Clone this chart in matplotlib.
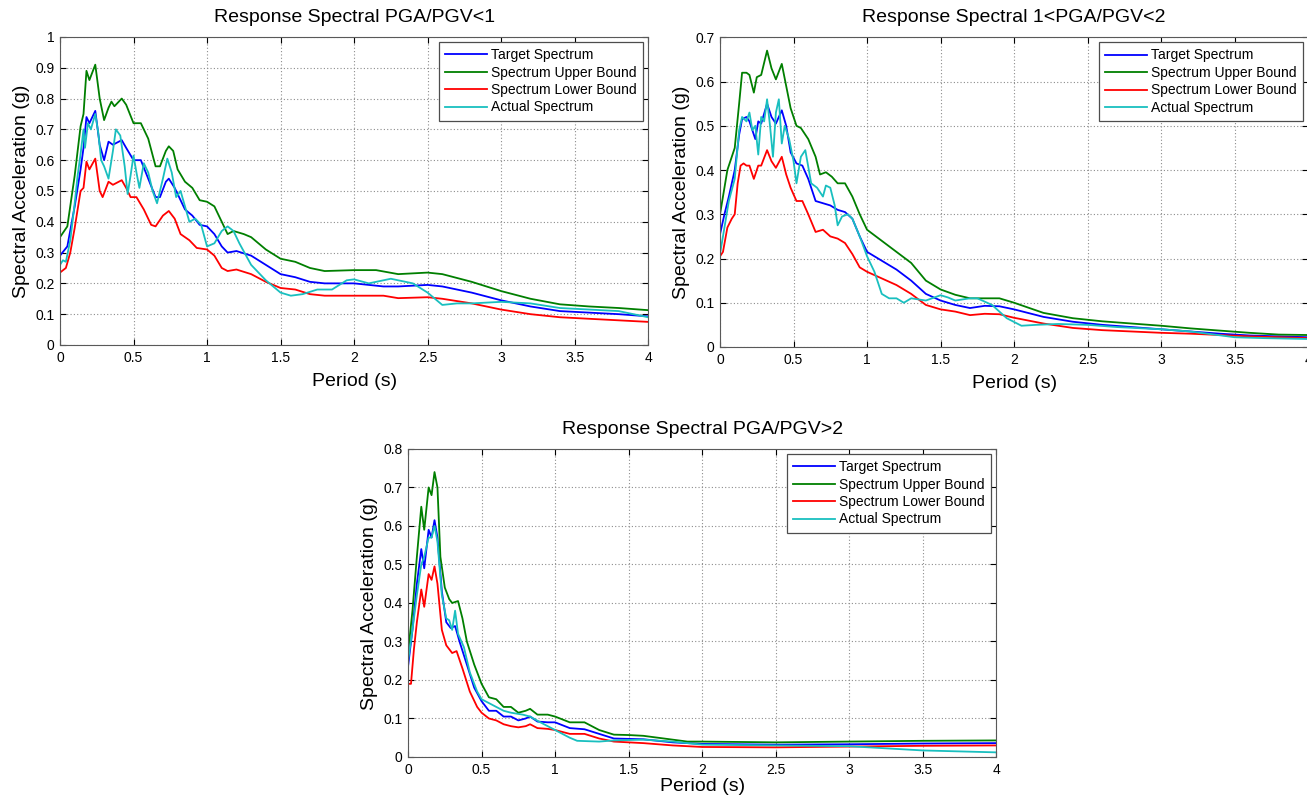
import matplotlib
matplotlib.use("Agg")
import matplotlib.pyplot as plt
from matplotlib.ticker import FormatStrFormatter, MultipleLocator

plt.rcParams['font.family'] = ['Liberation Sans', 'DejaVu Sans']

labels = ['Target Spectrum', 'Spectrum Upper Bound', 'Spectrum Lower Bound', 'Actual Spectrum']
colors = ['#0000ff', '#007f00', '#ff0000', '#19bfbf']

# ---- panel 1 : PGA/PGV < 1 ----
p1_t_target = [0, 0.05, 0.1, 0.14, 0.16, 0.18, 0.2, 0.24, 0.27, 0.3, 0.33, 0.36, 0.42, 0.45, 0.5, 0.55,
               0.6, 0.65, 0.68, 0.72, 0.74, 0.78, 0.85, 0.9, 0.95, 1.0, 1.05, 1.1, 1.14, 1.2, 1.3, 1.4,
               1.5, 1.6, 1.7, 1.8, 2.0, 2.2, 2.3, 2.5, 2.6, 2.8, 3.0, 3.2, 3.4, 3.6, 3.8, 4.0]
p1_target = [0.29, 0.32, 0.45, 0.57, 0.64, 0.74, 0.72, 0.76, 0.65, 0.60, 0.66, 0.65, 0.665, 0.64, 0.60, 0.60,
             0.54, 0.48, 0.48, 0.53, 0.54, 0.51, 0.44, 0.42, 0.39, 0.385, 0.36, 0.32, 0.30, 0.305, 0.29, 0.26,
             0.23, 0.22, 0.205, 0.20, 0.20, 0.19, 0.19, 0.195, 0.19, 0.17, 0.145, 0.125, 0.11, 0.105, 0.10, 0.093]
p1_t_upper = [0, 0.05, 0.1, 0.14, 0.16, 0.18, 0.2, 0.24, 0.27, 0.3, 0.33, 0.35, 0.37, 0.42, 0.45, 0.5,
              0.55, 0.6, 0.65, 0.68, 0.72, 0.74, 0.77, 0.8, 0.85, 0.9, 0.95, 1.0, 1.05, 1.1, 1.14, 1.18,
              1.25, 1.3, 1.4, 1.5, 1.6, 1.7, 1.8, 2.0, 2.15, 2.3, 2.5, 2.6, 2.8, 3.0, 3.2, 3.4, 3.6, 3.8, 4.0]
p1_upper = [0.35, 0.385, 0.55, 0.71, 0.75, 0.89, 0.86, 0.91, 0.80, 0.73, 0.77, 0.79, 0.775, 0.80, 0.78, 0.72,
            0.72, 0.67, 0.58, 0.58, 0.63, 0.645, 0.63, 0.57, 0.53, 0.51, 0.47, 0.465, 0.45, 0.40, 0.36, 0.37,
            0.36, 0.35, 0.31, 0.28, 0.27, 0.25, 0.24, 0.243, 0.243, 0.23, 0.235, 0.23, 0.205, 0.175, 0.15, 0.132,
            0.125, 0.12, 0.113]
p1_t_lower = [0, 0.04, 0.07, 0.1, 0.14, 0.16, 0.18, 0.2, 0.24, 0.27, 0.29, 0.33, 0.36, 0.42, 0.45, 0.48,
              0.52, 0.57, 0.62, 0.65, 0.7, 0.74, 0.78, 0.82, 0.88, 0.93, 1.0, 1.05, 1.1, 1.14, 1.2, 1.3,
              1.4, 1.5, 1.6, 1.7, 1.8, 2.0, 2.2, 2.3, 2.5, 2.6, 2.8, 3.0, 3.2, 3.4, 3.6, 3.8, 4.0]
p1_lower = [0.235, 0.25, 0.30, 0.38, 0.50, 0.51, 0.595, 0.57, 0.605, 0.50, 0.48, 0.53, 0.52, 0.535, 0.51, 0.48,
            0.48, 0.44, 0.39, 0.385, 0.42, 0.435, 0.41, 0.36, 0.34, 0.315, 0.31, 0.29, 0.25, 0.24, 0.245, 0.23,
            0.205, 0.185, 0.18, 0.165, 0.16, 0.16, 0.16, 0.152, 0.155, 0.15, 0.135, 0.115, 0.10, 0.09, 0.085,
            0.08, 0.075]
p1_t_actual = [0, 0.02, 0.04, 0.07, 0.1, 0.12, 0.14, 0.16, 0.17, 0.19, 0.21, 0.24, 0.26, 0.28, 0.3, 0.33,
               0.36, 0.38, 0.41, 0.44, 0.46, 0.48, 0.5, 0.52, 0.54, 0.57, 0.6, 0.63, 0.66, 0.7, 0.73, 0.76,
               0.79, 0.82, 0.85, 0.88, 0.92, 0.96, 1.0, 1.05, 1.1, 1.14, 1.18, 1.22, 1.3, 1.4, 1.5, 1.57,
               1.65, 1.75, 1.85, 1.95, 2.0, 2.1, 2.25, 2.4, 2.5, 2.6, 2.7, 2.8, 3.0, 3.2, 3.4, 3.6, 3.8, 4.0]
p1_actual = [0.26, 0.275, 0.27, 0.34, 0.46, 0.55, 0.62, 0.70, 0.64, 0.72, 0.70, 0.75, 0.69, 0.60, 0.58, 0.54,
             0.63, 0.70, 0.68, 0.58, 0.49, 0.55, 0.615, 0.56, 0.51, 0.59, 0.56, 0.50, 0.46, 0.54, 0.605, 0.56,
             0.48, 0.50, 0.45, 0.40, 0.41, 0.39, 0.32, 0.33, 0.37, 0.385, 0.37, 0.33, 0.26, 0.21, 0.17, 0.16,
             0.165, 0.18, 0.18, 0.21, 0.213, 0.20, 0.215, 0.20, 0.17, 0.13, 0.135, 0.135, 0.14, 0.135, 0.12,
             0.115, 0.11, 0.09]

# ---- panel 2 : 1 < PGA/PGV < 2 ----
p2_t_target = [0, 0.03, 0.06, 0.1, 0.13, 0.15, 0.18, 0.2, 0.24, 0.26, 0.28, 0.32, 0.35, 0.38, 0.42, 0.45,
               0.48, 0.52, 0.56, 0.6, 0.65, 0.7, 0.75, 0.8, 0.85, 0.9, 0.95, 1.0, 1.1, 1.2, 1.3, 1.4, 1.5,
               1.6, 1.7, 1.8, 1.9, 2.0, 2.2, 2.4, 2.6, 2.8, 3.0, 3.2, 3.4, 3.6, 3.8, 4.0]
p2_target = [0.255, 0.30, 0.34, 0.40, 0.48, 0.515, 0.52, 0.51, 0.47, 0.51, 0.505, 0.55, 0.52, 0.505, 0.535, 0.50,
             0.44, 0.415, 0.41, 0.38, 0.33, 0.325, 0.32, 0.31, 0.305, 0.29, 0.25, 0.215, 0.195, 0.175, 0.15,
             0.12, 0.105, 0.095, 0.088, 0.093, 0.092, 0.085, 0.068, 0.057, 0.05, 0.045, 0.04, 0.035, 0.03,
             0.026, 0.024, 0.022]
p2_t_upper = [0, 0.05, 0.1, 0.13, 0.15, 0.18, 0.2, 0.23, 0.25, 0.28, 0.32, 0.35, 0.38, 0.42, 0.45, 0.48,
              0.52, 0.55, 0.6, 0.65, 0.68, 0.72, 0.76, 0.8, 0.85, 0.9, 0.95, 1.0, 1.1, 1.2, 1.3, 1.4, 1.5,
              1.6, 1.7, 1.8, 1.9, 2.0, 2.2, 2.4, 2.6, 2.8, 3.0, 3.2, 3.4, 3.6, 3.8, 4.0]
p2_upper = [0.30, 0.40, 0.45, 0.55, 0.62, 0.62, 0.615, 0.575, 0.61, 0.615, 0.67, 0.63, 0.605, 0.64, 0.59, 0.54,
            0.50, 0.495, 0.47, 0.43, 0.39, 0.395, 0.385, 0.37, 0.37, 0.34, 0.30, 0.265, 0.24, 0.215, 0.19,
            0.15, 0.13, 0.118, 0.11, 0.11, 0.11, 0.10, 0.077, 0.065, 0.058, 0.053, 0.048, 0.042, 0.037,
            0.032, 0.028, 0.027]
p2_t_lower = [0, 0.02, 0.05, 0.08, 0.1, 0.12, 0.14, 0.16, 0.18, 0.2, 0.23, 0.26, 0.28, 0.32, 0.35, 0.38,
              0.42, 0.45, 0.48, 0.52, 0.56, 0.6, 0.65, 0.7, 0.75, 0.8, 0.85, 0.9, 0.95, 1.0, 1.1, 1.2, 1.3,
              1.4, 1.5, 1.6, 1.7, 1.8, 1.9, 2.0, 2.2, 2.4, 2.6, 2.8, 3.0, 3.2, 3.4, 3.6, 3.8, 4.0]
p2_lower = [0.205, 0.215, 0.27, 0.29, 0.30, 0.37, 0.41, 0.415, 0.41, 0.41, 0.38, 0.41, 0.41, 0.445, 0.42,
            0.405, 0.43, 0.39, 0.36, 0.33, 0.33, 0.30, 0.26, 0.265, 0.25, 0.245, 0.235, 0.21, 0.18, 0.17,
            0.155, 0.14, 0.12, 0.095, 0.085, 0.08, 0.072, 0.075, 0.074, 0.066, 0.053, 0.043, 0.038, 0.035,
            0.032, 0.03, 0.027, 0.024, 0.022, 0.02]
p2_t_actual = [0, 0.03, 0.06, 0.1, 0.13, 0.15, 0.18, 0.2, 0.22, 0.24, 0.26, 0.28, 0.3, 0.32, 0.34, 0.36,
               0.38, 0.4, 0.42, 0.44, 0.47, 0.5, 0.52, 0.55, 0.58, 0.62, 0.66, 0.7, 0.72, 0.75, 0.78, 0.8,
               0.83, 0.87, 0.9, 0.95, 1.0, 1.05, 1.1, 1.15, 1.2, 1.25, 1.3, 1.4, 1.5, 1.55, 1.6, 1.7, 1.75,
               1.85, 1.95, 2.05, 2.15, 2.3, 2.5, 2.7, 3.0, 3.2, 3.5, 3.7, 4.0]
p2_actual = [0.21, 0.27, 0.33, 0.38, 0.49, 0.52, 0.51, 0.53, 0.49, 0.50, 0.435, 0.52, 0.51, 0.56, 0.50, 0.43,
             0.53, 0.56, 0.46, 0.50, 0.47, 0.42, 0.37, 0.43, 0.445, 0.37, 0.36, 0.34, 0.365, 0.36, 0.32, 0.275,
             0.295, 0.30, 0.29, 0.25, 0.205, 0.17, 0.12, 0.11, 0.11, 0.10, 0.11, 0.105, 0.117, 0.112, 0.105,
             0.11, 0.11, 0.095, 0.065, 0.048, 0.05, 0.052, 0.05, 0.045, 0.04, 0.035, 0.022, 0.02, 0.018]

# ---- panel 3 : PGA/PGV > 2 ----
p3_t_target = [0, 0.03, 0.06, 0.09, 0.11, 0.14, 0.16, 0.18, 0.2, 0.23, 0.26, 0.29, 0.32, 0.35, 0.4, 0.45,
               0.5, 0.55, 0.6, 0.65, 0.7, 0.75, 0.8, 0.83, 0.88, 0.95, 1.0, 1.1, 1.2, 1.3, 1.4, 1.5, 1.6,
               1.7, 1.8, 2.0, 2.5, 3.0, 3.5, 4.0]
p3_target = [0.235, 0.33, 0.45, 0.54, 0.49, 0.59, 0.57, 0.615, 0.57, 0.43, 0.35, 0.335, 0.34, 0.30, 0.24, 0.18,
             0.145, 0.12, 0.12, 0.105, 0.105, 0.095, 0.10, 0.105, 0.092, 0.09, 0.09, 0.075, 0.072, 0.06, 0.048,
             0.047, 0.046, 0.042, 0.038, 0.034, 0.032, 0.033, 0.035, 0.036]
p3_t_upper = [0, 0.03, 0.06, 0.09, 0.11, 0.14, 0.16, 0.18, 0.2, 0.22, 0.25, 0.28, 0.3, 0.34, 0.37, 0.4,
              0.45, 0.5, 0.55, 0.6, 0.65, 0.7, 0.75, 0.8, 0.83, 0.88, 0.95, 1.0, 1.1, 1.2, 1.3, 1.4, 1.5,
              1.6, 1.7, 1.8, 1.9, 2.0, 2.5, 3.0, 3.5, 4.0]
p3_upper = [0.27, 0.38, 0.52, 0.65, 0.59, 0.70, 0.68, 0.74, 0.70, 0.52, 0.44, 0.41, 0.40, 0.405, 0.36, 0.30,
            0.24, 0.19, 0.155, 0.15, 0.13, 0.13, 0.115, 0.12, 0.125, 0.11, 0.11, 0.105, 0.09, 0.09, 0.07,
            0.058, 0.057, 0.055, 0.05, 0.045, 0.04, 0.04, 0.038, 0.04, 0.042, 0.043]
p3_t_lower = [0, 0.02, 0.04, 0.06, 0.09, 0.11, 0.14, 0.16, 0.18, 0.2, 0.23, 0.26, 0.3, 0.33, 0.37, 0.42,
              0.47, 0.5, 0.55, 0.6, 0.65, 0.7, 0.75, 0.8, 0.83, 0.88, 0.95, 1.0, 1.1, 1.2, 1.3, 1.4, 1.6,
              1.8, 2.0, 2.5, 3.0, 3.5, 4.0]
p3_lower = [0.19, 0.19, 0.28, 0.35, 0.435, 0.39, 0.475, 0.46, 0.495, 0.45, 0.33, 0.29, 0.27, 0.275, 0.23, 0.17,
            0.13, 0.115, 0.10, 0.095, 0.085, 0.08, 0.077, 0.08, 0.085, 0.075, 0.073, 0.07, 0.06, 0.06, 0.048,
            0.04, 0.036, 0.03, 0.026, 0.025, 0.027, 0.029, 0.03]
p3_t_actual = [0, 0.03, 0.06, 0.09, 0.11, 0.14, 0.16, 0.18, 0.2, 0.23, 0.26, 0.28, 0.3, 0.32, 0.34, 0.38,
               0.42, 0.47, 0.5, 0.55, 0.6, 0.65, 0.7, 0.78, 0.83, 0.9, 1.0, 1.1, 1.15, 1.3, 1.4, 1.6, 1.8,
               2.0, 2.5, 3.0, 3.5, 4.0]
p3_actual = [0.25, 0.33, 0.42, 0.50, 0.52, 0.57, 0.57, 0.60, 0.56, 0.42, 0.36, 0.355, 0.33, 0.38, 0.32, 0.285,
             0.22, 0.17, 0.15, 0.14, 0.13, 0.12, 0.115, 0.11, 0.105, 0.09, 0.07, 0.05, 0.042, 0.04, 0.043,
             0.045, 0.04, 0.032, 0.03, 0.028, 0.017, 0.012]


def draw(ax, title, series, ymax, xpad=6):
    for (t, v), c, lab in zip(series, colors, labels):
        ax.plot(t, v, color=c, lw=1.3, label=lab)
    ax.set_xlim(0, 4)
    ax.set_ylim(0, ymax)
    ax.xaxis.set_major_locator(MultipleLocator(0.5))
    ax.yaxis.set_major_locator(MultipleLocator(0.1))
    ax.xaxis.set_major_formatter(FormatStrFormatter('%g'))
    ax.yaxis.set_major_formatter(FormatStrFormatter('%g'))
    ax.grid(True, color='0.55', linestyle=(0, (1, 2)), linewidth=0.8)
    ax.tick_params(direction='in', top=True, right=True, length=4, labelsize=10, pad=4)
    for s in ax.spines.values():
        s.set_color('0.35')
    ax.set_title(title, fontsize=14, pad=11)
    ax.set_xlabel('Period (s)', fontsize=14, labelpad=xpad)
    ax.set_ylabel('Spectral Acceleration (g)', fontsize=14, labelpad=4)
    leg = ax.legend(loc='upper right', fontsize=10, fancybox=False, framealpha=1,
                    edgecolor='0.3', handlelength=3.0, handletextpad=0.35,
                    labelspacing=0.25, borderpad=0.45, borderaxespad=0.35)
    leg.get_frame().set_linewidth(0.9)


fig = plt.figure(figsize=(13.07, 7.98), dpi=100)
ax1 = fig.add_axes([0.0459, 0.5677, 0.450, 0.386])
ax2 = fig.add_axes([0.5509, 0.5652, 0.450, 0.388])
ax3 = fig.add_axes([0.3122, 0.0514, 0.450, 0.386])

draw(ax1, 'Response Spectral PGA/PGV<1',
     [(p1_t_target, p1_target), (p1_t_upper, p1_upper), (p1_t_lower, p1_lower), (p1_t_actual, p1_actual)], 1.0)
draw(ax2, 'Response Spectral 1<PGA/PGV<2',
     [(p2_t_target, p2_target), (p2_t_upper, p2_upper), (p2_t_lower, p2_lower), (p2_t_actual, p2_actual)], 0.7)
draw(ax3, 'Response Spectral PGA/PGV>2',
     [(p3_t_target, p3_target), (p3_t_upper, p3_upper), (p3_t_lower, p3_lower), (p3_t_actual, p3_actual)], 0.8,
     xpad=1)

fig.savefig('out.png', dpi=100)
